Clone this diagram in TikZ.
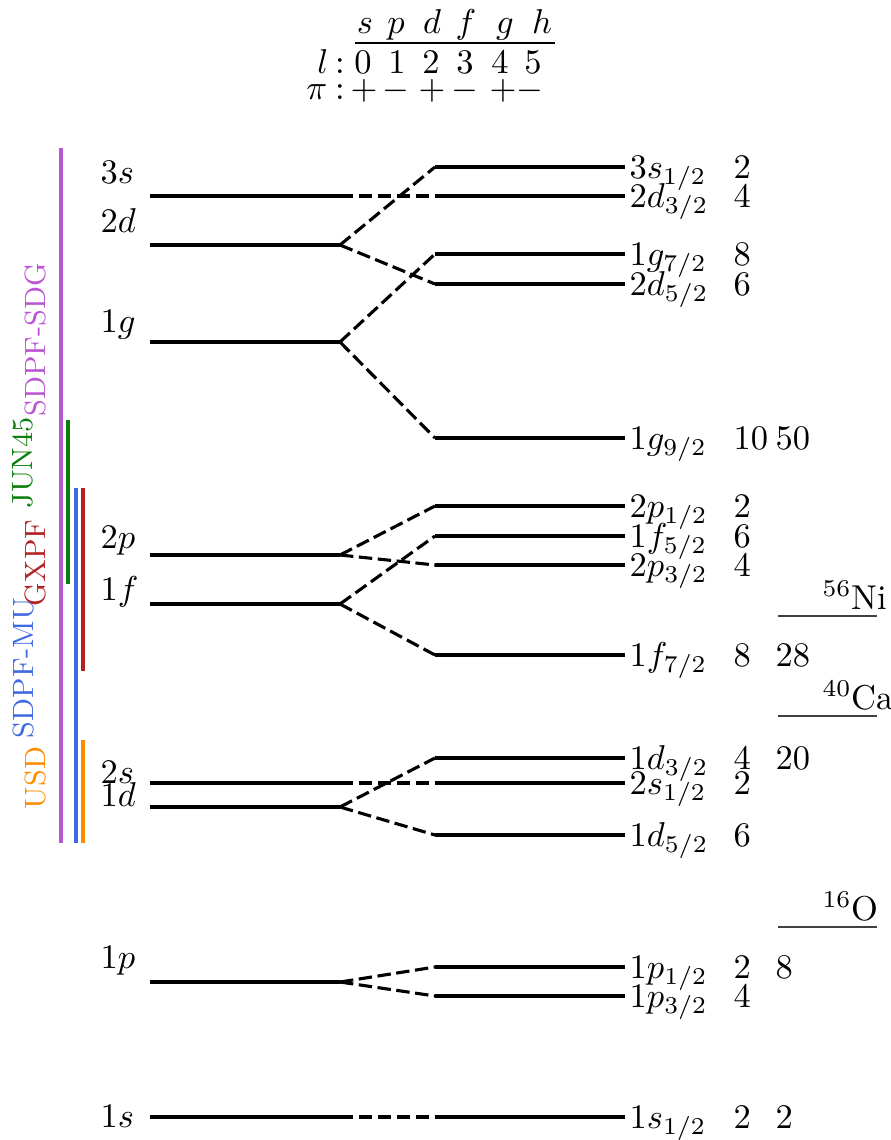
\documentclass[tikz,border=0pt]{standalone}
\usetikzlibrary{calc}
\definecolor{cSDG}{HTML}{BA55D3}
\definecolor{cJUN}{HTML}{0A7F0A}
\definecolor{cMU}{HTML}{4169E1}
\definecolor{cGX}{HTML}{B22222}
\definecolor{cUSD}{HTML}{FF8C00}
\begin{document}
\begin{tikzpicture}[x=0.29pt,y=-0.29pt,
  lev/.style={line width=0.9pt},
  conn/.style={line width=0.9pt,dash pattern=on 3.9pt off 1.6pt},
  bar/.style={line width=0.9pt},
  nuc/.style={line width=0.35pt,black!75},
  lab/.style={anchor=base west,inner sep=0pt,font=\fontsize{10}{12}\selectfont},
  tab/.style={anchor=base,inner sep=0pt,font=\fontsize{10}{12}\selectfont},
  side/.style={rotate=90,inner sep=0pt,font=\fontsize{8.5}{10}\selectfont}
]
\useasboundingbox (0,0) rectangle (891,1140);

% ---- table at top
\foreach \c/\x in {s/365,p/396,d/432,f/466,g/505,h/542}
  \node[tab] (h-\c) at (\x,33) {$\c$};
\coordinate (cl-a) at (355,43);
\coordinate (cl-b) at (555,43);
\draw[line width=0.4pt] (cl-a) -- (cl-b);
\node[tab,anchor=base east] (t-l) at (329,73) {$l$};
\node[tab] (t-lc) at (340,73) {$:$};
\foreach \v/\x in {0/363,1/397,2/431,3/465,4/500,5/533}
  \node[tab] (d-\v) at (\x,73) {$\v$};
\node[tab,anchor=base east] (t-pi) at (328,99) {$\pi$};
\node[tab] (t-pic) at (340,99) {$:$};
\foreach \s/\x/\i in {+/364/a,-/396/b,+/432/c,-/465/d,+/503/e,-/530/f}
  \node[tab] (p-\i) at (\x,99) {$\s$};

% ---- coloured bars and labels
\foreach \n/\col/\x/\ya/\yb in {sdg/cSDG/61/148/843, jun/cJUN/68/420/584, mu/cMU/76/488/843, gx/cGX/83/488/671, usd/cUSD/83/740/843}{
  \coordinate (\n-t) at (\x,\ya);
  \coordinate (\n-b) at (\x,\yb);
  \draw[bar,\col] (\n-t) -- (\n-b);
}
\node[side,text=cSDG] (t-sdg) at (35,340) {SDPF-SDG};
\node[side,text=cJUN] (t-jun) at (23,463) {JUN45};
\node[side,text=cGX] (t-gx) at (35,563) {GXPF};
\node[side,text=cMU] (t-mu) at (23,668) {SDPF-MU};
\node[side,text=cUSD] (t-usd) at (35,778) {USD};

% ---- left levels
\foreach \n/\y/\lb/\by in {3s/196/3s/183, 2d/245/2d/232, 1g/342/1g/332, 2p/555/2p/548, 1f/604/1f/600, 2s/783/2s/783, 1d/807/1d/806, 1p/982/1p/968, 1s/1117/1s/1127}{
  \coordinate (L\n-a) at (150,\y);
  \coordinate (L\n) at (340,\y);
  \draw[lev] (L\n-a) -- (L\n);
  \node[lab] (ll-\n) at (100,\by) {$\lb$};
}

% ---- right levels
\foreach \n/\y/\lb/\dg in {3s1/167/3s_{1/2}/2, 2d3/196/2d_{3/2}/4, 1g7/254/1g_{7/2}/8, 2d5/284/2d_{5/2}/6, 1g9/438/1g_{9/2}/10, 2p1/506/2p_{1/2}/2, 1f5/536/1f_{5/2}/6, 2p3/565/2p_{3/2}/4, 1f7/655/1f_{7/2}/8, 1d3/758/1d_{3/2}/4, 2s1/783/2s_{1/2}/2, 1d5/835/1d_{5/2}/6, 1p1/967/1p_{1/2}/2, 1p3/996/1p_{3/2}/4, 1s1/1117/1s_{1/2}/2}{
  \coordinate (R\n) at (435,\y);
  \coordinate (R\n-b) at (625,\y);
  \draw[lev] (R\n) -- (R\n-b);
  \node[lab] (rl-\n) at (629,\y+11) {$\lb$};
  \node[lab] (dg-\n) at (733,\y+11) {$\dg$};
}

% ---- magic numbers
\foreach \n/\y/\m in {1g9/438/50, 1f7/655/28, 1d3/758/20, 1p1/967/8, 1s1/1117/2}
  \node[lab] (mg-\n) at (775,\y+11) {$\m$};

% ---- connectors
\foreach \a/\b in {3s/2d3, 2d/3s1, 2d/2d5, 1g/1g7, 1g/1g9, 2p/2p1, 2p/2p3, 1f/1f5, 1f/1f7, 2s/2s1, 1d/1d3, 1d/1d5, 1p/1p1, 1p/1p3, 1s/1s1}
  \draw[conn] (L\a) -- (R\b);

% ---- closed shells
\foreach \n/\y/\t in {ni/616/{$^{56}$Ni}, ca/716/{$^{40}$Ca}, o/927/{$^{16}$O}}{
  \coordinate (\n-a) at (778,\y);
  \coordinate (\n-b) at (877,\y);
  \draw[nuc] (\n-a) -- (\n-b);
  \node[lab] (nl-\n) at (822,\y-7) {\t};
}
\end{tikzpicture}
\end{document}
